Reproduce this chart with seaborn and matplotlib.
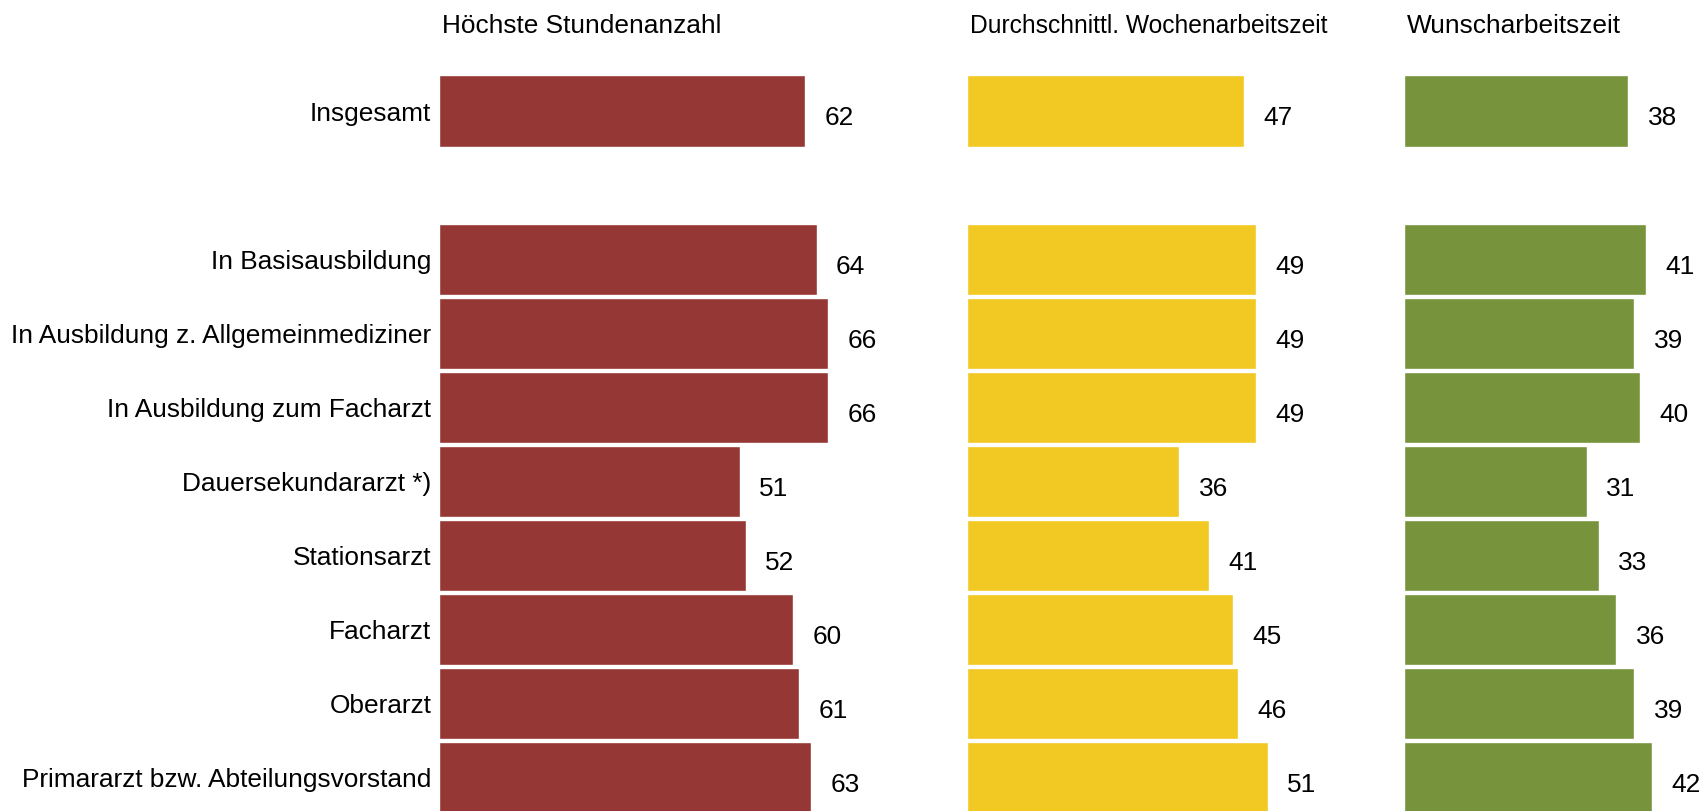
import pandas as pd
import seaborn as sns
import matplotlib.pyplot as plt

# Data
categories = [
    "Insgesamt",
    " ",
    "In Basisausbildung",
    "In Ausbildung z. Allgemeinmediziner",
    "In Ausbildung zum Facharzt",
    "Dauersekundararzt *)",
    "Stationsarzt",
    "Facharzt",
    "Oberarzt",
    "Primararzt bzw. Abteilungsvorstand",
]
rows = [c for c in categories if c.strip()]
hoechste = [62, 64, 66, 66, 51, 52, 60, 61, 63]
durchschnitt = [47, 49, 49, 49, 36, 41, 45, 46, 51]
wunsch = [38, 41, 39, 40, 31, 33, 36, 39, 42]

titles = ["Höchste Stundenanzahl", "Durchschnittl. Wochenarbeitszeit", "Wunscharbeitszeit"]
colors = ["#953735", "#F2C822", "#77933C"]

df = pd.DataFrame({
    "Kategorie": rows,
    titles[0]: hoechste,
    titles[1]: durchschnitt,
    titles[2]: wunsch,
})

sns.set_theme(style="white")
plt.rcParams['font.family'] = ['Liberation Sans', 'DejaVu Sans']

W, H = 1704, 811
fig = plt.figure(figsize=(W / 100, H / 100), dpi=100)

px_per_unit = 5.9
top = 1 - 74 / H
panels = [(439, 967), (967, 1404), (1404, 1704)]
fs = 18.9
title_sizes = [18.9, 17.7, 18.9]

for i, (title, color, (x0, x1)) in enumerate(zip(titles, colors, panels)):
    ax = fig.add_axes([x0 / W, 0, (x1 - x0) / W, top])
    sns.barplot(data=df, y="Kategorie", x=title, order=categories, color=color,
                saturation=1, width=0.96, orient="h", ax=ax, errorbar=None)
    ax.set_xlim(0, (x1 - x0) / px_per_unit)
    ax.set_ylim(9.45, -0.5)
    for spine in ax.spines.values():
        spine.set_visible(False)
    ax.set_xticks([])
    ax.set_xlabel("")
    ax.set_ylabel("")
    if i == 0:
        ax.tick_params(axis="y", length=0, pad=5.5, labelsize=fs, labelcolor="black")
    else:
        ax.set_yticks([])
    for cat, v in zip(df["Kategorie"], df[title]):
        ax.text(v + 3.3, categories.index(cat) + 0.1, str(v), va="center", ha="left",
                fontsize=fs, color="black")
    fig.text((x0 + 3) / W, 1 - 26 / H, title, ha="left", va="center",
             fontsize=title_sizes[i], color="black")

fig.savefig("out.png", dpi=100)
